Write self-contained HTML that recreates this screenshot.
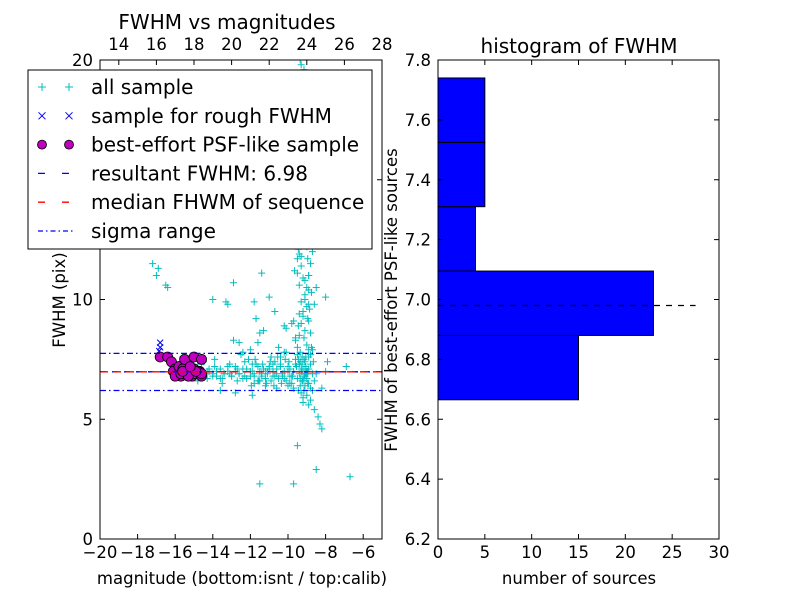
<!DOCTYPE html>
<html><head><meta charset="utf-8"><style>
body{margin:0;background:#fff;}
svg text{font-family:"DejaVu Sans","Liberation Sans",sans-serif;}
</style></head><body>
<svg id="c" width="800" height="600" xmlns="http://www.w3.org/2000/svg"></svg>
<script>
// ---- data ----
const allMag=[-17.2,-17.0,-16.9,-16.5,-16.4,-15.6,-15.2,-14.8,-14.5,-14.2,-14.0,-13.8,-13.6,-13.4,-13.2,-13.0,-12.8,-12.6,-12.4,-12.2,-12.0,-11.8,-11.6,-11.4,-11.2,-11.0,-10.8,-10.6,-10.4,-10.2,-10.0,
-15.4,-15.0,-14.6,-14.3,-13.9,-13.5,-13.1,-12.7,-12.3,-11.9,-11.5,-11.1,-10.7,-10.3,-9.9,
-13.3,-12.9,-11.7,-11.3,-11.0,-10.5,-10.1,-12.5,-12.0,-11.6,-10.9,-10.2,-13.6,-12.8,-11.2,-10.6,
-13.2,-12.9,-11.4,-12.1,-11.8,-10.8,-10.4,-10.0,-11.5,-10.7,-12.4,-11.9,
-9.8,-9.7,-9.6,-9.5,-9.4,-9.3,-9.2,-9.1,-9.0,-8.9,-8.8,-8.7,-8.6,-9.8,-9.6,-9.4,-9.2,-9.0,-8.8,-8.6,-9.7,-9.5,-9.3,-9.1,-8.9,-8.7,
-9.75,-9.55,-9.35,-9.15,-8.95,-8.75,-9.65,-9.45,-9.25,-9.05,-8.85,-9.6,-9.4,-9.2,-9.0,-8.8,-9.5,-9.3,-9.1,-8.9,-9.45,-9.25,-9.05,-9.35,-9.15,-9.3,-9.2,-9.4,-9.1,-9.0,
-9.7,-9.5,-9.3,-9.1,-8.9,-9.6,-9.4,-9.2,-9.0,-8.8,-9.8,-9.55,-9.35,-9.15,-8.95,-9.45,-9.25,-9.05,-9.3,-9.2,-9.4,-9.1,
-9.0,-8.9,-8.7,-8.5,-8.8,-8.6,-8.4,-8.3,-8.2,-9.6,-9.2,-8.9,-8.6,-8.5,-9.4,-9.1,-9.8,-9.5,
-10.0,-9.9,-10.1,-8.2,-8.0,-7.9,-6.9,-9.5,-11.5,-9.7,-8.5,-6.7,-8.0,-10.2,-11.8,-12.6,-14.0,
-9.3,-9.25,-9.2,-9.15,-9.1,-9.05,-9.0,-8.95,-9.35,-9.3,-9.25,-9.2,-9.15,-9.1,-9.05,-9.0,-8.95,-8.9,-9.4,-9.35,-9.3,-9.2,-9.1,-9.0,-8.9,-8.85,
-9.5,-9.45,-9.4,-9.3,-9.2,-9.1,-9.0,-8.9,-8.8,-8.75,-9.6,-9.5,-9.4,-9.3,-9.2,-9.1,-9.0,-8.9,-8.8,-8.7,-9.7,-9.6,-9.5,-9.4,-9.3,-9.2,-9.1,-9.0,-8.9,-8.8,-8.7,-8.65,
-9.25,-9.15,-9.05,-8.95,-9.35,-9.25,-9.15,-9.05,-9.45,-9.35,-9.25,-9.15,-9.05,-8.95,
-9.9,-10.0,-10.1,-10.2,-10.3,-10.4,-10.5,-10.6,-10.7,-10.8,-10.9,-11.0,-11.1,-11.2,-11.3,-11.4,-11.5,-11.6,-11.7,-11.8,-11.9,-12.0,-12.2,-12.4,-12.6,-12.8,-13.0,-13.2,-13.4,-13.6,-13.8,-14.0,-14.2,-14.4,
-9.95,-10.15,-10.35,-10.55,-10.75,-10.95,-11.15,-11.35,-11.55,-11.75,-11.95,-12.3,-12.7,-13.1,-13.5,-13.9,-14.3,-14.6,-14.8];
const allFwhm=[11.5,11.0,11.3,10.6,10.5,7.6,7.3,7.2,7.4,7.0,6.9,6.8,7.1,6.9,7.0,6.8,7.2,6.9,7.1,6.7,7.0,6.8,7.2,6.9,7.0,7.1,6.8,6.9,7.2,6.7,7.0,
6.9,7.1,6.8,7.0,7.2,6.7,6.9,7.1,6.8,7.3,6.6,7.0,7.4,6.8,7.1,
9.9,8.3,9.2,8.7,10.1,8.0,8.8,7.7,7.9,8.2,7.6,7.8,6.2,6.1,6.4,6.3,
9.8,10.7,11.1,7.5,6.5,7.3,7.6,6.4,8.6,9.5,7.8,6.0,
6.5,7.0,7.5,8.0,8.5,9.0,9.5,10.0,10.5,11.0,11.5,12.0,6.6,12.5,13.0,13.5,14.0,14.5,15.0,15.5,16.0,16.5,17.0,17.5,18.0,18.5,
6.8,7.2,7.8,8.4,9.2,10.3,11.2,12.1,13.2,14.1,15.2,16.2,17.3,18.2,19.3,12.6,13.6,11.8,10.8,9.8,8.9,7.6,6.9,20.0,19.6,19.0,18.8,17.8,16.8,15.8,
6.3,6.7,7.1,7.4,6.5,7.3,6.9,6.6,7.0,7.7,6.8,7.2,6.4,7.5,6.9,6.2,6.6,7.0,6.1,5.9,7.3,6.8,
6.0,5.6,6.2,6.9,5.8,5.4,5.1,4.8,4.6,8.3,5.7,7.9,9.8,10.5,9.4,14.5,9.0,11.7,
7.2,6.5,7.8,6.3,7.0,7.4,7.2,3.9,2.3,2.3,2.9,2.6,10.1,8.9,9.9,8.2,10.0,
19.8,19.2,18.5,17.9,17.2,16.6,15.9,15.3,18.9,17.6,16.3,15.0,14.4,13.8,13.1,12.4,11.7,11.0,16.9,15.6,14.7,13.5,12.8,12.2,10.4,9.6,
14.2,13.0,11.9,11.4,10.9,10.2,9.7,9.1,8.6,8.0,12.3,11.1,10.6,9.9,9.3,8.7,8.1,7.6,7.3,7.9,9.1,8.4,7.7,7.3,7.0,6.6,6.4,6.7,7.1,6.3,6.9,7.4,
7.0,6.8,7.2,6.5,7.4,6.6,7.1,6.9,7.5,6.7,7.3,6.2,7.6,7.0,
6.8,7.2,6.6,7.0,6.9,7.3,6.7,7.1,6.8,7.0,6.6,7.2,6.9,6.7,7.1,6.8,7.0,6.6,7.3,6.9,7.0,6.8,7.1,6.7,6.9,7.0,6.8,7.2,6.9,6.7,7.0,6.8,7.1,6.9,
7.4,7.5,6.5,7.6,6.4,7.4,6.5,7.3,6.6,7.5,6.4,7.4,6.6,7.3,6.5,7.5,6.7,7.3,6.6];
const roughMag=[-16.8,-16.8,-16.85];
const roughFwhm=[8.2,8.0,7.85];
const psfMag=[-16.8,-16.4,-16.2,-16.0,-15.9,-15.7,-15.5,-15.3,-15.1,-14.9,-14.7,-14.6,-16.1,-15.8,-15.6,-15.4,-15.2,-15.0,-14.8,-14.6,-15.5,-15.0,-14.6,-16.0,-15.7,-15.3,-14.9,-15.6,-15.2];
const psfFwhm=[7.6,7.6,7.4,7.1,6.9,6.8,6.9,7.0,6.8,6.9,7.0,6.8,7.0,7.2,7.1,6.9,7.0,7.1,7.0,6.9,7.5,7.6,7.5,6.8,6.9,6.8,7.0,7.0,7.2];
const resultFwhm=6.98, sigmaLo=6.2, sigmaHi=7.75;
const binEdges=[6.665,6.88,7.095,7.31,7.525,7.74];
const binCounts=[15,23,4,5,5];
const xTicksB=[-20,-18,-16,-14,-12,-10,-8,-6];
const xTicksT=[14,16,18,20,22,24,26,28];
const yTicksL=[0,5,10,15,20];
const xTicksR=[0,5,10,15,20,25,30];
const yTicksR=[6.2,6.4,6.6,6.8,7.0,7.2,7.4,7.6,7.8];

// ---- drawing ----
const svg=document.getElementById('c');const NS='http://www.w3.org/2000/svg';
function mk(t,a,p){const e=document.createElementNS(NS,t);for(const k in a)e.setAttribute(k,a[k]);(p||svg).appendChild(e);return e;}
function tx(s,x,y,size,anchor,p){const e=mk('text',{x:x,y:y,'font-size':size,'text-anchor':anchor||'middle'},p);e.textContent=s;return e;}
const TF=16.5;
const L={x0:100,x1:382,y0:60,y1:539};
const lx=v=>L.x0+(v+20)/15*(L.x1-L.x0), ly=v=>L.y1-v/20*(L.y1-L.y0);
const ltx=v=>L.x0+(v-13)/15*(L.x1-L.x0);
const R={x0:438,x1:719,y0:60,y1:539};
const rx=v=>R.x0+v/30*(R.x1-R.x0), ry=v=>R.y1-(v-6.2)/1.6*(R.y1-R.y0);

const gL=mk('g',{});
mk('rect',{x:L.x0,y:L.y0,width:L.x1-L.x0,height:L.y1-L.y0,fill:'#fff',stroke:'none'},gL);
mk('clipPath',{id:'cl'},gL).appendChild(mk('rect',{x:L.x0,y:L.y0,width:L.x1-L.x0,height:L.y1-L.y0}));
const pts=mk('g',{'clip-path':'url(#cl)'},gL);
function hline(v,col,dash){const e=mk('line',{x1:L.x0,x2:L.x1,y1:ly(v),y2:ly(v),stroke:col,'stroke-width':1.3,'stroke-dasharray':dash},pts);return e;}
allMag.forEach((m,i)=>{const x=lx(m),y=ly(allFwhm[i]);const g=mk('path',{d:`M${x-3.5},${y}H${x+3.5}M${x},${y-3.5}V${y+3.5}`,stroke:'#00bfbf','stroke-width':1},pts);
});
roughMag.forEach((m,i)=>{const x=lx(m),y=ly(roughFwhm[i]);const g=mk('path',{d:`M${x-3},${y-3}L${x+3},${y+3}M${x-3},${y+3}L${x+3},${y-3}`,stroke:'#0000ff','stroke-width':1},pts);
});
psfMag.forEach((m,i)=>{const c=mk('circle',{cx:lx(m),cy:ly(psfFwhm[i]),r:5,fill:'#bf00bf',stroke:'#000','stroke-width':0.8},pts);
});
let e=hline(sigmaHi,'#0000ff','6 3 1.5 3');
e=hline(sigmaLo,'#0000ff','6 3 1.5 3');
e=hline(resultFwhm,'#0000ff','6 6');
e=hline(resultFwhm,'#ff0000','8 5');
mk('rect',{x:L.x0,y:L.y0,width:L.x1-L.x0,height:L.y1-L.y0,fill:'none',stroke:'#000','stroke-width':1},gL);
xTicksB.forEach(v=>{const x=lx(v);mk('line',{x1:x,x2:x,y1:L.y1,y2:L.y1-5,stroke:'#000'},gL);tx((v<0?'\u2212':'')+Math.abs(v),x,L.y1+19,TF,'middle',gL);});
xTicksT.forEach(v=>{const x=ltx(v);mk('line',{x1:x,x2:x,y1:L.y0,y2:L.y0+5,stroke:'#000'},gL);tx(String(v),x,L.y0-10,TF,'middle',gL);});
yTicksL.forEach(v=>{const y=ly(v);mk('line',{x1:L.x0,x2:L.x0+5,y1:y,y2:y,stroke:'#000'},gL);mk('line',{x1:L.x1,x2:L.x1-5,y1:y,y2:y,stroke:'#000'},gL);tx(String(v),L.x0-7,y+6,TF,'end',gL);});
tx('FWHM vs magnitudes',227,29,20,'middle',gL);
tx('magnitude (bottom:isnt / top:calib)',242,584,16.5,'middle',gL);
const yt=tx('FWHM (pix)',65,300,16.5,'middle',gL);yt.setAttribute('transform','rotate(-90 65 300)');

// legend
const lg=mk('g',{});
mk('rect',{x:28,y:70,width:344,height:179,fill:'#fff',stroke:'#000','stroke-width':1},lg);
const labels=['all sample','sample for rough FWHM','best-effort PSF-like sample','resultant FWHM: 6.98','median FHWM of sequence','sigma range'];
labels.forEach((s,i)=>{const y=87+i*28.8;const g=mk('g',{},lg);
if(i==0)[42,69].forEach(x=>mk('path',{d:`M${x-4},${y}H${x+4}M${x},${y-4}V${y+4}`,stroke:'#00bfbf'},g));
if(i==1)[42,69].forEach(x=>mk('path',{d:`M${x-3.5},${y-3.5}L${x+3.5},${y+3.5}M${x-3.5},${y+3.5}L${x+3.5},${y-3.5}`,stroke:'#0000ff'},g));
if(i==2)[42,69].forEach(x=>mk('circle',{cx:x,cy:y,r:4.5,fill:'#bf00bf',stroke:'#000','stroke-width':0.8},g));
if(i==3)mk('line',{x1:38,x2:74,y1:y,y2:y,stroke:'#0000ff','stroke-width':1.3,'stroke-dasharray':'7 17'},g);
if(i==4)mk('line',{x1:38,x2:74,y1:y,y2:y,stroke:'#ff0000','stroke-width':1.3,'stroke-dasharray':'7 17'},g);
if(i==5)mk('line',{x1:38,x2:74,y1:y,y2:y,stroke:'#0000ff','stroke-width':1.3,'stroke-dasharray':'5 3 1.5 3'},g);
tx(s,91,y+7,20,'start',g);});

// right histogram
const gR=mk('g',{});
binCounts.forEach((c,i)=>{const y1=ry(binEdges[i+1]),y2=ry(binEdges[i]);const b=mk('rect',{x:rx(0),y:y1,width:rx(c)-rx(0),height:y2-y1,fill:'#0000ff',stroke:'#000','stroke-width':1},gR);
});
e=mk('line',{x1:rx(0),x2:rx(27.5),y1:ry(resultFwhm),y2:ry(resultFwhm),stroke:'#000','stroke-width':1.3,'stroke-dasharray':'6 6'},gR);

mk('rect',{x:R.x0,y:R.y0,width:R.x1-R.x0,height:R.y1-R.y0,fill:'none',stroke:'#000'},gR);
xTicksR.forEach(v=>{const x=rx(v);mk('line',{x1:x,x2:x,y1:R.y1,y2:R.y1-5,stroke:'#000'},gR);mk('line',{x1:x,x2:x,y1:R.y0,y2:R.y0+5,stroke:'#000'},gR);tx(String(v),x,R.y1+19,TF,'middle',gR);});
yTicksR.forEach(v=>{const y=ry(v);mk('line',{x1:R.x0,x2:R.x0+5,y1:y,y2:y,stroke:'#000'},gR);mk('line',{x1:R.x1,x2:R.x1-5,y1:y,y2:y,stroke:'#000'},gR);tx(v.toFixed(1),R.x0-7,y+6,TF,'end',gR);});
tx('histogram of FWHM',579,53,20,'middle',gR);
tx('number of sources',579,584,16.5,'middle',gR);
const yr=tx('FWHM of best-effort PSF-like sources',397,300,16.5,'middle',gR);yr.setAttribute('transform','rotate(-90 397 300)');
</script>
</body></html>
